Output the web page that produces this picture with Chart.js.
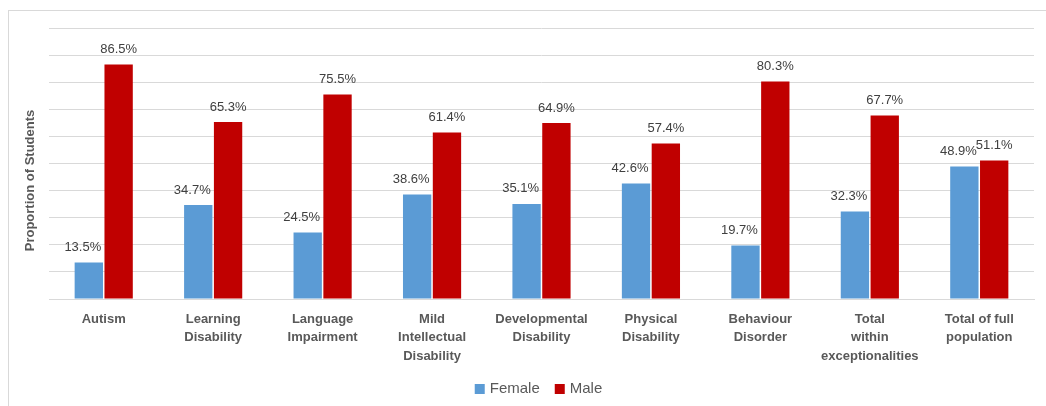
<!DOCTYPE html>
<html>
<head>
<meta charset="utf-8">
<script src="https://cdn.jsdelivr.net/npm/chart.js@4.4.1/dist/chart.umd.min.js"></script>
<style>
  html, body { margin: 0; padding: 0; background: #fff; }
  #frame {
    position: absolute; left: 8px; top: 10px; width: 1040px; height: 400px;
    border-left: 1px solid #d9d9d9; border-top: 1px solid #d9d9d9;
  }
  #wrap { position: absolute; left: 0; top: 0; width: 1046px; height: 406px; }
</style>
</head>
<body>
<div id="frame"></div>
<div id="wrap"><canvas id="chart" width="1046" height="406"></canvas></div>
<script>
// categories and the share of each group, in percent
const categories = [
  ['Autism'],
  ['Learning', 'Disability'],
  ['Language', 'Impairment'],
  ['Mild', 'Intellectual', 'Disability'],
  ['Developmental', 'Disability'],
  ['Physical', 'Disability'],
  ['Behaviour', 'Disorder'],
  ['Total', 'within', 'exceptionalities'],
  ['Total of full', 'population']
];
const female = [13.5, 34.7, 24.5, 38.6, 35.1, 42.6, 19.7, 32.3, 48.9];
const male = [86.5, 65.3, 75.5, 61.4, 64.9, 57.4, 80.3, 67.7, 51.1];

const textGray = '#595959';
const gridGray = '#d9d9d9';
const fontFam = '"Liberation Sans", Arial, sans-serif';

// percent labels above every bar (female ones nudged left so they don't collide)
const valueLabels = {
  id: 'valueLabels',
  afterDatasetsDraw(chart) {
    const ctx = chart.ctx;
    ctx.save();
    ctx.font = '13px ' + fontFam;
    ctx.fillStyle = '#404040';
    ctx.textAlign = 'center';
    ctx.textBaseline = 'middle';
    chart.data.datasets.forEach((ds, i) => {
      const shift = i === 0 ? -6 : 0;
      chart.getDatasetMeta(i).data.forEach((bar, j) => {
        ctx.fillText(ds.data[j].toFixed(1) + '%', bar.x + shift, bar.y - 15);
      });
    });
    ctx.restore();
  }
};

// legend under the axis labels, centred on the plot
const bottomLegend = {
  id: 'bottomLegend',
  afterDraw(chart) {
    const ctx = chart.ctx;
    const box = 10, gapText = 5, gapItem = 15, y = 389;
    ctx.save();
    ctx.font = '15px ' + fontFam;
    ctx.textBaseline = 'middle';
    const items = chart.data.datasets.map(ds => ({
      text: ds.label, color: ds.backgroundColor, w: ctx.measureText(ds.label).width
    }));
    const total = items.reduce((s, it) => s + box + gapText + it.w, 0) + gapItem * (items.length - 1);
    let x = (chart.chartArea.left + chart.chartArea.right) / 2 - 3 - total / 2;
    items.forEach(it => {
      ctx.fillStyle = it.color;
      ctx.fillRect(x, y - box / 2, box, box);
      x += box + gapText;
      ctx.fillStyle = textGray;
      ctx.fillText(it.text, x, y);
      x += it.w + gapItem;
    });
    ctx.restore();
  }
};

// rotated axis title, sitting a little below the plot's middle
const yTitle = {
  id: 'yTitle',
  afterDraw(chart) {
    const ctx = chart.ctx;
    const a = chart.chartArea;
    ctx.save();
    ctx.translate(30, (a.top + a.bottom) / 2 + 17);
    ctx.rotate(-Math.PI / 2);
    ctx.font = 'bold 13px ' + fontFam;
    ctx.fillStyle = textGray;
    ctx.textAlign = 'center';
    ctx.textBaseline = 'middle';
    ctx.fillText('Proportion of Students', 0, 0);
    ctx.restore();
  }
};

new Chart(document.getElementById('chart'), {
  type: 'bar',
  data: {
    labels: categories,
    datasets: [
      { label: 'Female', data: female, backgroundColor: '#5b9bd5' },
      { label: 'Male', data: male, backgroundColor: '#c00000' }
    ]
  },
  options: {
    responsive: false,
    animation: false,
    categoryPercentage: 0.545,
    barPercentage: 0.95,
    layout: { padding: { top: 28, right: 12, left: 0, bottom: 37 } },
    plugins: {
      legend: { display: false },
      tooltip: { enabled: false }
    },
    scales: {
      x: {
        grid: { display: false },
        border: { color: gridGray },
        ticks: {
          color: textGray,
          padding: 3,
          maxRotation: 0,
          autoSkip: false,
          font: { size: 13, weight: 'bold', family: fontFam, lineHeight: 1.42 }
        },
        afterFit(scale) { scale.height = 70; }
      },
      y: {
        min: 0, max: 100,
        ticks: { display: false, stepSize: 10 },
        grid: { color: gridGray, drawTicks: false },
        border: { display: false },
        afterFit(scale) { scale.width = 49; }
      }
    }
  },
  plugins: [valueLabels, bottomLegend, yTitle]
});
</script>
</body>
</html>
